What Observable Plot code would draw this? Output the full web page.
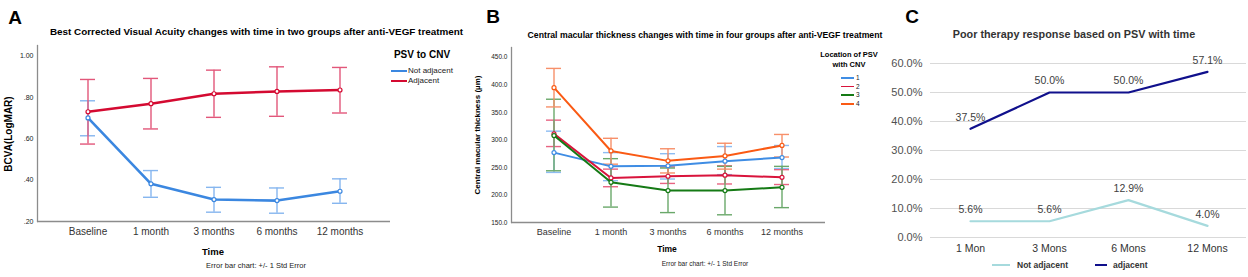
<!DOCTYPE html>
<html>
<head>
<meta charset="utf-8">
<script src="https://cdn.jsdelivr.net/npm/d3@7"></script>
<script src="https://cdn.jsdelivr.net/npm/@observablehq/plot@0.6"></script>
<style>
  body { margin: 0; background: #fff; }
  #root { position: relative; width: 1248px; height: 277px; overflow: hidden; background: #fff; font-family: "Liberation Sans", Arial, sans-serif; }
  .abs { position: absolute; white-space: nowrap; line-height: 1; }
  .c { transform: translate(-50%, -50%); }
  .b { font-weight: bold; }
  .panel { position: absolute; top: 0; }
  .sw { position: absolute; }
</style>
</head>
<body>
<div id="root"></div>
<script>
// ---------- Panel A data ----------
const timesA = ["Baseline", "1 month", "3 months", "6 months", "12 months"];
const notAdjMean = [0.700, 0.382, 0.306, 0.301, 0.346];
const notAdjLo   = [0.614, 0.317, 0.245, 0.240, 0.288];
const notAdjHi   = [0.783, 0.446, 0.365, 0.362, 0.406];
const adjMean    = [0.730, 0.769, 0.817, 0.828, 0.835];
const adjLo      = [0.574, 0.647, 0.703, 0.708, 0.724];
const adjHi      = [0.886, 0.891, 0.931, 0.947, 0.944];
const ticksA = [0.2, 0.4, 0.6, 0.8, 1.0];

// ---------- Panel B data ----------
const timesB = ["Baseline", "1 month", "3 months", "6 months", "12 months"];
const loc1Mean = [277, 252, 253, 261.5, 268];
const loc1Lo   = [241, 226, 229, 237, 248];
const loc1Hi   = [316, 277, 275, 288, 290];
const loc2Mean = [311, 231, 234, 236, 232];
const loc2Lo   = [288, 215, 221, 220, 219];
const loc2Hi   = [336, 247, 251, 253, 246];
const loc3Mean = [308, 223, 208, 208, 214];
const loc3Lo   = [244, 178, 168, 164, 177];
const loc3Hi   = [374, 266, 249, 252, 252];
const loc4Mean = [395, 280, 262, 271, 290];
const loc4Lo   = [360, 256, 240, 247, 269];
const loc4Hi   = [430, 303, 284, 294, 310];
const ticksB = [150, 200, 250, 300, 350, 400, 450];

// ---------- Panel C data ----------
const timesC = ["1 Mon", "3 Mons", "6 Mons", "12 Mons"];
const poorNotAdj = [0.056, 0.056, 0.129, 0.040];
const poorAdj    = [0.375, 0.500, 0.500, 0.571];
const ticksC = [0, 0.1, 0.2, 0.3, 0.4, 0.5, 0.6];

const FONT = "Liberation Sans, Arial, sans-serif";
const root = document.getElementById("root");

function addText(txt, x, y, size, opts = {}) {
  const d = document.createElement("div");
  d.className = "abs" + (opts.center === false ? "" : " c") + (opts.bold ? " b" : "");
  d.textContent = txt;
  d.style.left = x + "px";
  d.style.top = y + "px";
  d.style.fontSize = size + "px";
  d.style.color = opts.color || "#000";
  if (opts.rotate) d.style.transform = "translate(-50%, -50%) rotate(-90deg)";
  if (opts.center === false) d.style.transform = "translate(0, -50%)";
  root.appendChild(d);
}
function addSwatch(x, y, w, h, color) {
  const d = document.createElement("div");
  d.className = "sw";
  d.style.left = x + "px"; d.style.top = (y - h / 2) + "px";
  d.style.width = w + "px"; d.style.height = h + "px";
  d.style.background = color;
  root.appendChild(d);
}
function place(svg, left) {
  const w = document.createElement("div");
  w.className = "panel";
  w.style.left = left + "px";
  w.appendChild(svg);
  root.appendChild(w);
}

function errMarks(data, errCol, lineCol, lw) {
  const groups = [...new Set(data.map(d => d.g))];
  const marks = [];
  for (const g of groups) {
    const sub = data.filter(d => d.g === g);
    marks.push(Plot.ruleX(sub, {x: "t", y1: "lo", y2: "hi", stroke: errCol[g], strokeWidth: 1.4}));
    marks.push(Plot.tickY(sub, {x: "t", y: "lo", stroke: errCol[g], strokeWidth: 1.4}));
    marks.push(Plot.tickY(sub, {x: "t", y: "hi", stroke: errCol[g], strokeWidth: 1.4}));
  }
  for (const g of groups) {
    const sub = data.filter(d => d.g === g);
    marks.push(Plot.line(sub, {x: "t", y: "m", stroke: lineCol[g], strokeWidth: lw}));
    marks.push(Plot.dot(sub, {x: "t", y: "m", r: 2, stroke: lineCol[g], fill: "white", strokeWidth: 1.2}));
  }
  return marks;
}

// ---------- Panel A ----------
const A = [];
timesA.forEach((t, i) => {
  A.push({t, g: "Not adjacent", m: notAdjMean[i], lo: notAdjLo[i], hi: notAdjHi[i]});
  A.push({t, g: "Adjacent", m: adjMean[i], lo: adjLo[i], hi: adjHi[i]});
});
const colA = {"Not adjacent": "#3b87e0", "Adjacent": "#d40a31"};
const errA = {"Not adjacent": "#86b6ef", "Adjacent": "#e2577a"};
const fmtA = d => d3.format(".2f")(d).replace(/^0/, "");

const plotA = Plot.plot({
  width: 400, height: 277,
  marginLeft: 37, marginRight: 10, marginTop: 45, marginBottom: 56,
  style: {fontFamily: FONT, background: "transparent"},
  x: {type: "band", domain: timesA, paddingInner: 0.7645, paddingOuter: 0.651, label: null},
  y: {domain: [0.2, 1.05], label: null},
  marks: [
    Plot.frame({anchor: "left", stroke: "#8c8c8c", strokeWidth: 1.3}),
    Plot.ruleY([0.2], {stroke: "#8c8c8c", strokeWidth: 1.3}),
    ...errMarks(A, errA, colA, 2.6),
    Plot.axisY({ticks: ticksA, tickFormat: fmtA, tickSize: 0, tickPadding: 4, fontSize: 7, color: "#222", label: null}),
    Plot.axisX({tickSize: 0, tickPadding: 6, fontSize: 10, color: "#333", label: null})
  ]
});
place(plotA, 0);

// ---------- Panel B ----------
const B = [];
const bSeries = [["1", loc1Mean, loc1Lo, loc1Hi], ["2", loc2Mean, loc2Lo, loc2Hi], ["3", loc3Mean, loc3Lo, loc3Hi], ["4", loc4Mean, loc4Lo, loc4Hi]];
for (const [g, m, lo, hi] of bSeries) timesB.forEach((t, i) => B.push({t, g, m: m[i], lo: lo[i], hi: hi[i]}));
const colB = {"1": "#3f8de4", "2": "#d9143c", "3": "#157a15", "4": "#fa5a14"};
const errB = {"1": "#8dbcf2", "2": "#e86482", "3": "#6aa86a", "4": "#f7906a"};

const plotB = Plot.plot({
  width: 400, height: 277,
  marginLeft: 71, marginRight: 15, marginTop: 47, marginBottom: 55,
  style: {fontFamily: FONT, background: "transparent"},
  x: {type: "band", domain: timesB, paddingInner: 0.736, paddingOuter: 0.607, label: null},
  y: {domain: [150, 468], label: null},
  marks: [
    Plot.frame({anchor: "left", stroke: "#8c8c8c", strokeWidth: 1.3}),
    Plot.ruleY([150], {stroke: "#8c8c8c", strokeWidth: 1.3}),
    ...errMarks(B, errB, colB, 2),
    Plot.axisY({ticks: ticksB, tickFormat: d3.format(".1f"), tickSize: 0, tickPadding: 4, fontSize: 6.5, color: "#222", label: null}),
    Plot.axisX({tickSize: 0, tickPadding: 6, fontSize: 9, color: "#333", label: null})
  ]
});
place(plotB, 440);

// ---------- Panel C ----------
const C = [];
timesC.forEach((t, i) => {
  C.push({t, g: "Not adjacent", v: poorNotAdj[i]});
  C.push({t, g: "adjacent", v: poorAdj[i]});
});
const colC = {"Not adjacent": "#a6dadd", "adjacent": "#10108c"};
const plotC = Plot.plot({
  width: 408, height: 277,
  marginLeft: 90, marginRight: 2, marginTop: 63, marginBottom: 40,
  style: {fontFamily: FONT, background: "transparent"},
  x: {type: "point", domain: timesC, padding: 0.5, label: null},
  y: {domain: [0, 0.6], label: null},
  marks: [
    Plot.ruleY(ticksC, {stroke: "#d9d9d9", strokeWidth: 1.2}),
    Plot.line(C.filter(d => d.g === "Not adjacent"), {x: "t", y: "v", stroke: colC["Not adjacent"], strokeWidth: 2.2}),
    Plot.line(C.filter(d => d.g === "adjacent"), {x: "t", y: "v", stroke: colC["adjacent"], strokeWidth: 2.2}),
    Plot.text(C, {x: "t", y: "v", text: d => d3.format(".1%")(d.v), dy: -11.5, fontSize: 10.5, fill: "#404040"}),
    Plot.axisY({ticks: ticksC, tickFormat: d3.format(".1%"), tickSize: 0, tickPadding: 8, fontSize: 11, color: "#505050", label: null}),
    Plot.axisX({tickSize: 0, tickPadding: 7, fontSize: 10.5, color: "#333", label: null})
  ]
});
place(plotC, 840);

// ---------- Text: Panel A ----------
addText("A", 15, 17, 19, {bold: true});
addText("Best Corrected Visual Acuity changes with time in two groups after anti-VEGF treatment", 256.5, 32, 9.9, {bold: true});
addText("BCVA(LogMAR)", 9, 134, 10, {bold: true, rotate: true});
addText("Time", 213, 252, 9.5, {bold: true});
addText("Error bar chart: +/- 1 Std Error", 256, 266, 7.5, {color: "#222"});
addText("PSV to CNV", 422, 55, 10, {bold: true});
addSwatch(391, 71, 16, 2.5, colA["Not adjacent"]);
addSwatch(391, 81, 16, 2.5, colA["Adjacent"]);
addText("Not adjacent", 408, 71, 8, {center: false, color: "#222"});
addText("Adjacent", 408, 81, 8, {center: false, color: "#222"});

// ---------- Text: Panel B ----------
addText("B", 493, 16, 19, {bold: true});
addText("Central macular thickness changes with time in four groups after anti-VEGF treatment", 705, 35, 8.7, {bold: true});
addText("Central macular thickness (\u00b5m)", 478, 135, 8, {bold: true, rotate: true});
addText("Time", 667, 249, 8.5, {bold: true});
addText("Error bar chart: +/- 1 Std Error", 705, 264, 6.5, {color: "#222"});
addText("Location of PSV", 849, 55, 7.5, {bold: true});
addText("with CNV", 849, 65, 7.5, {bold: true});
["1", "2", "3", "4"].forEach((g, i) => {
  addSwatch(841, 77.7 + i * 8.8, 13, 1.8, colB[g]);
  addText(g, 856, 77.7 + i * 8.8, 6.5, {center: false, color: "#222"});
});

// ---------- Text: Panel C ----------
addText("C", 912, 16, 19, {bold: true});
addText("Poor therapy response based on PSV with time", 1074, 34, 10.8, {bold: true, color: "#333"});
addSwatch(992, 265, 18, 2.5, colC["Not adjacent"]);
addText("Not adjacent", 1017, 265, 8.5, {bold: true, center: false, color: "#333"});
addSwatch(1095, 265, 12, 2.5, colC["adjacent"]);
addText("adjacent", 1113, 265, 8.5, {bold: true, center: false, color: "#333"});
</script>
</body>
</html>
